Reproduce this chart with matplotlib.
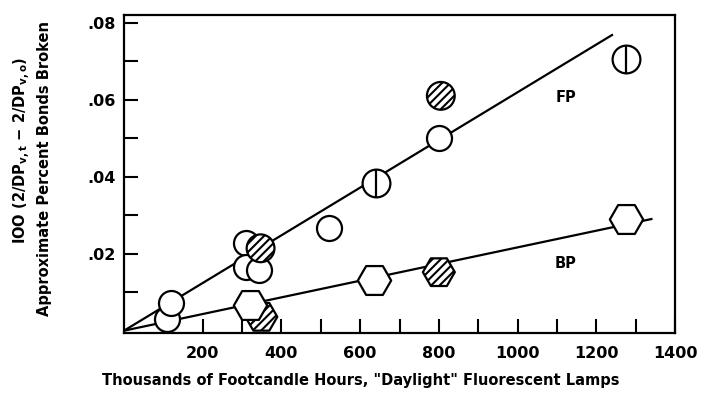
import matplotlib.pyplot as plt
import numpy as np

plt.rcParams["font.family"] = "DejaVu Sans"
plt.rcParams["font.weight"] = "bold"
plt.rcParams["hatch.linewidth"] = 1.5

# FP (circles) - open points
fp_open_x = [110, 120, 311, 309, 344, 522, 800]
fp_open_y = [0.0030, 0.0072, 0.0227, 0.0165, 0.0157, 0.0266, 0.0500]
# FP points with a vertical bar through the circle
fp_bar_x = [640, 1275]
fp_bar_y = [0.0383, 0.0705]
# FP hatched points
fp_hatch_x = [347, 805]
fp_hatch_y = [0.0214, 0.0610]

# BP (hexagons)
bp_open_x = [319, 635, 1276]
bp_open_y = [0.0066, 0.0131, 0.0290]
bp_hatch_x = [349, 800]
bp_hatch_y = [0.0036, 0.0152]

# fitted lines
fp_line_x = [0, 1240]
fp_line_y = [0, 0.0768]
bp_line_x = [0, 1340]
bp_line_y = [0, 0.0290]

xticks = np.arange(100, 1500, 100)
xticklabels = ["" if t % 200 else str(t) for t in xticks]
yticks = [0.01, 0.02, 0.03, 0.04, 0.05, 0.06, 0.07, 0.08]
yticklabels = ["", ".02", "", ".04", "", ".06", "", ".08"]

fig = plt.figure(figsize=(7.03, 3.93), dpi=100)
ax = fig.add_axes([124 / 703, 1 - 333 / 393, 551 / 703, 318 / 393])

ax.plot(fp_line_x, fp_line_y, color="black", lw=1.6, zorder=1)
ax.plot(bp_line_x, bp_line_y, color="black", lw=1.6, zorder=1)

ax.scatter(bp_hatch_x, bp_hatch_y, marker="H", s=23 ** 2, facecolor="white",
           edgecolor="black", hatch="////", linewidths=1.6, zorder=2)
ax.scatter(bp_open_x, bp_open_y, marker="H", s=24 ** 2, facecolor="white",
           edgecolor="black", linewidths=1.6, zorder=3)

ax.scatter(fp_open_x, fp_open_y, marker="o", s=18 ** 2, facecolor="white",
           edgecolor="black", linewidths=1.6, zorder=3)
ax.scatter(fp_hatch_x, fp_hatch_y, marker="o", s=20 ** 2, facecolor="white",
           edgecolor="black", hatch="////", linewidths=1.6, zorder=4)
ax.scatter(fp_bar_x, fp_bar_y, marker="o", s=20 ** 2, facecolor="white",
           edgecolor="black", linewidths=1.6, zorder=4)
ax.scatter(fp_bar_x, fp_bar_y, marker="|", s=20 ** 2, color="black",
           linewidths=1.6, zorder=5)

ax.text(1124, 0.0606, "FP", fontsize=10.5, fontweight="bold", ha="center", va="center")
ax.text(1122, 0.0175, "BP", fontsize=10.5, fontweight="bold", ha="center", va="center")

ax.set_xlim(0, 1400)
ax.set_ylim(-0.0006, 0.082)
ax.set_xticks(xticks)
ax.set_xticklabels(xticklabels)
ax.set_yticks(yticks)
ax.set_yticklabels(yticklabels)
ax.tick_params(direction="in", length=10, width=1.5, labelsize=11.5)
ax.tick_params(axis="x", pad=9)
ax.tick_params(axis="y", pad=6)
for sp in ax.spines.values():
    sp.set_linewidth(1.6)

fig.text(361 / 703, 1 - 380 / 393, "Thousands of Footcandle Hours, \"Daylight\" Fluorescent Lamps",
         ha="center", va="center", fontsize=10.5, fontweight="bold")
fig.text(22 / 703, 1 - 150 / 393, r"IOO (2/DP$_{\mathbf{v,t}}$ $-$ 2/DP$_{\mathbf{v,o}}$)",
         ha="center", va="center", rotation=90, fontsize=10.5, fontweight="bold")
fig.text(45 / 703, 1 - 168 / 393, "Approximate Percent Bonds Broken",
         ha="center", va="center", rotation=90, fontsize=10.5, fontweight="bold")

fig.savefig("out.png", dpi=100)
